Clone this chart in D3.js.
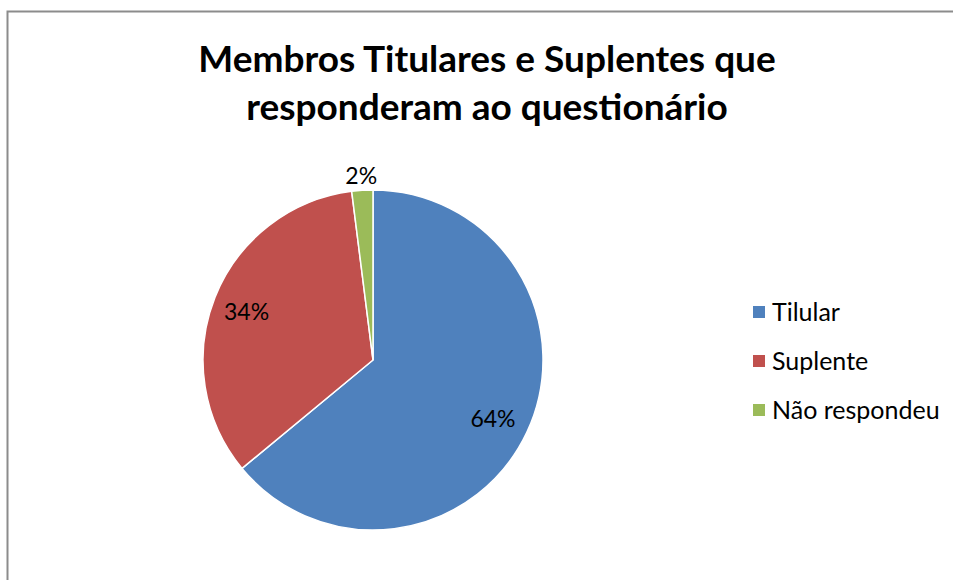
<!DOCTYPE html>
<html>
<head>
<meta charset="utf-8">
<script src="https://cdn.jsdelivr.net/npm/d3@7"></script>
<style>
  body { margin: 0; background: #fff; }
  text { font-family: Lato, "Open Sans", sans-serif; fill: #000; }
</style>
</head>
<body>
<svg id="chart" width="953" height="580"></svg>
<script>
var categories = ["Tilular", "Suplente", "Não respondeu"]
var values = [64, 34, 2]
var colors = ["#4F81BD", "#C0504D", "#9BBB59"]
var titleLines = ["Membros Titulares e Suplentes que", "responderam ao questionário"]

var svg = d3.select("#chart")

// chart border
svg.append("rect")
    .attr("x", 7.5).attr("y", 11.5)
    .attr("width", 960).attr("height", 600)
    .attr("fill", "white")
    .attr("stroke", "#8c8c8c")
    .attr("stroke-width", 2)

// title
svg.selectAll(".title")
    .data(titleLines)
    .enter().append("text")
    .attr("class", "title")
    .attr("x", 487)
    .attr("y", function (d, i) { return 72 + i * 48 })
    .attr("text-anchor", "middle")
    .style("font-size", "37px")
    .style("font-weight", "bold")
    .text(function (d) { return d })

var data = categories.map(function (c, i) { return { key: c, value: values[i], color: colors[i] } })

var cx = 373, cy = 360, r = 170
var pie = d3.pie().sort(null).value(function (d) { return d.value })
var arc = d3.arc().innerRadius(0).outerRadius(r)
var arcs = pie(data)

var g = svg.append("g").attr("transform", "translate(" + cx + "," + cy + ")")

g.selectAll("path")
    .data(arcs)
    .enter().append("path")
    .attr("d", arc)
    .attr("fill", function (d) { return d.data.color })
    .attr("stroke", "white")
    .attr("stroke-width", 1.5)

// percentage labels
var total = d3.sum(values)
var labelPos = [
    d3.arc().innerRadius(r * 0.78).outerRadius(r * 0.78),
    d3.arc().innerRadius(r * 0.8).outerRadius(r * 0.8),
    d3.arc().innerRadius(r * 1.1).outerRadius(r * 1.1)
]
g.selectAll(".lbl")
    .data(arcs)
    .enter().append("text")
    .attr("class", "lbl")
    .attr("transform", function (d, i) { return "translate(" + labelPos[i].centroid(d) + ")" })
    .attr("text-anchor", "middle")
    .attr("dy", "0.45em")
    .style("font-size", "23px")
    .text(function (d) { return Math.round(d.data.value / total * 100) + "%" })

// legend
var legend = svg.selectAll(".leg")
    .data(data)
    .enter().append("g")
    .attr("class", "leg")
    .attr("transform", function (d, i) { return "translate(753," + (306 + i * 49) + ")" })

legend.append("rect")
    .attr("width", 12).attr("height", 12)
    .attr("fill", function (d) { return d.color })

legend.append("text")
    .attr("x", 19)
    .attr("y", 6)
    .attr("dy", "0.37em")
    .style("font-size", "25px")
    .text(function (d) { return d.key })
</script>
</body>
</html>
